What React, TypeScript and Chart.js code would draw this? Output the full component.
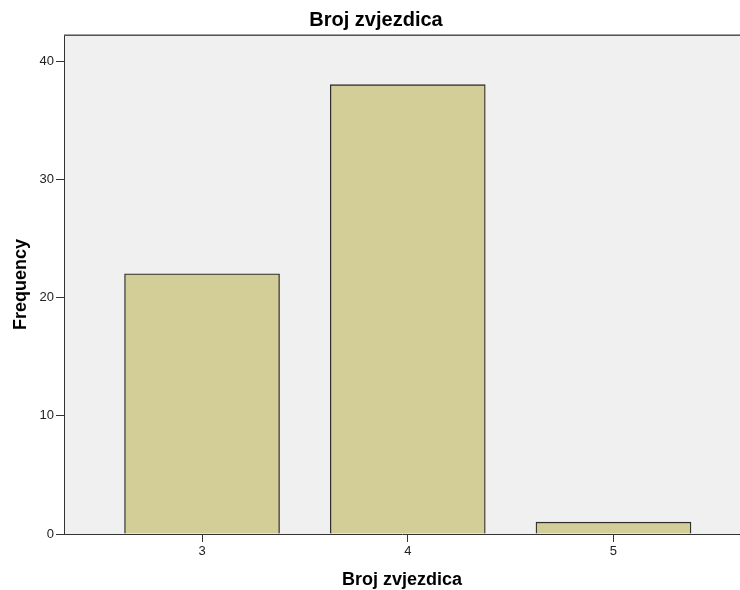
import React, { useEffect, useRef } from "react";
import { Chart, registerables } from "chart.js";

Chart.register(...registerables);

const chartTitle = "Broj zvjezdica";
const xAxisTitle = "Broj zvjezdica";
const yAxisTitle = "Frequency";
const categories = [3, 4, 5];
const frequencies = [22, 38, 1];
const yTicks = [0, 10, 20, 30, 40];

const FONT = "'Liberation Sans', Arial, sans-serif";

const bgPlugin = {
  id: "plotBg",
  beforeDraw(chart: any) {
    const { ctx, chartArea } = chart;
    ctx.save();
    ctx.fillStyle = "#F0F0F0";
    ctx.fillRect(chartArea.left, chartArea.top, chartArea.right - chartArea.left, chartArea.bottom - chartArea.top);
    ctx.restore();
  },
  afterDraw(chart: any) {
    const { ctx, chartArea } = chart;
    ctx.save();
    ctx.strokeStyle = "#A0A0A0";
    ctx.lineWidth = 1;
    ctx.beginPath();
    ctx.moveTo(chartArea.left, chartArea.top - 0.5);
    ctx.lineTo(chartArea.right, chartArea.top - 0.5);
    ctx.stroke();
    ctx.strokeStyle = "#555555";
    ctx.beginPath();
    ctx.moveTo(chartArea.left, chartArea.top + 0.5);
    ctx.lineTo(chartArea.right, chartArea.top + 0.5);
    ctx.stroke();
    ctx.restore();
  },
};

export default function App() {
  const ref = useRef<HTMLCanvasElement | null>(null);
  useEffect(() => {
    if (!ref.current) return;
    const chart = new Chart(ref.current, {
      type: "bar",
      data: {
        datasets: [
          {
            label: yAxisTitle,
            data: categories.map((c, i) => ({ x: c, y: frequencies[i] })),
            backgroundColor: "#D3CE97",
            borderColor: "#2E2E2E",
            borderWidth: 1.3,
            barThickness: 155,
          } as any,
        ],
      },
      options: {
        responsive: false,
        animation: false,
        layout: { padding: { left: 12, right: 0, top: 0, bottom: 0 } },
        plugins: {
          legend: { display: false },
          tooltip: { enabled: false },
          title: {
            display: true,
            text: chartTitle,
            color: "#000",
            font: { family: FONT, size: 20, weight: "bold", lineHeight: 1.2 },
            padding: { top: 8, bottom: 3 },
          },
        },
        scales: {
          x: {
            type: "linear",
            min: 2.329,
            max: 5.615,
            offset: false,
            afterBuildTicks: (scale: any) => {
              scale.ticks = categories.map((v) => ({ value: v }));
            },
            afterFit: (scale: any) => {
              scale.height = 56;
            },
            ticks: {
              color: "#222",
              font: { family: FONT, size: 13 },
              padding: 2,
              maxRotation: 0,
              autoSkip: false,
              callback: (v: any) => String(v),
            },
            grid: {
              offset: false,
              drawOnChartArea: false,
              drawTicks: true,
              tickLength: 8,
              color: "#333",
            },
            border: { display: true, color: "#333", width: 1 },
            title: {
              display: true,
              text: xAxisTitle,
              color: "#000",
              font: { family: FONT, size: 18, weight: "bold", lineHeight: 1 },
              padding: { top: 0, bottom: 1 },
            },
          },
          y: {
            min: 0,
            max: 42.2,
            afterBuildTicks: (scale: any) => {
              scale.ticks = yTicks.map((v) => ({ value: v }));
            },
            afterFit: (scale: any) => {
              scale.width = 52;
            },
            ticks: {
              color: "#222",
              font: { family: FONT, size: 13 },
              padding: 2,
            },
            grid: {
              offset: false,
              drawOnChartArea: false,
              drawTicks: true,
              tickLength: 8,
              color: "#333",
            },
            border: { display: true, color: "#333", width: 1 },
            title: {
              display: true,
              text: yAxisTitle,
              color: "#000",
              font: { family: FONT, size: 18, weight: "bold", lineHeight: 1 },
              padding: { top: 0, bottom: 0 },
            },
          },
        },
      },
      plugins: [bgPlugin],
    } as any);
    return () => chart.destroy();
  }, []);
  return (
    <div style={{ position: "absolute", left: 0, top: 0, width: 740, height: 590, background: "#fff" }}>
      <canvas ref={ref} width={740} height={590} />
    </div>
  );
}
